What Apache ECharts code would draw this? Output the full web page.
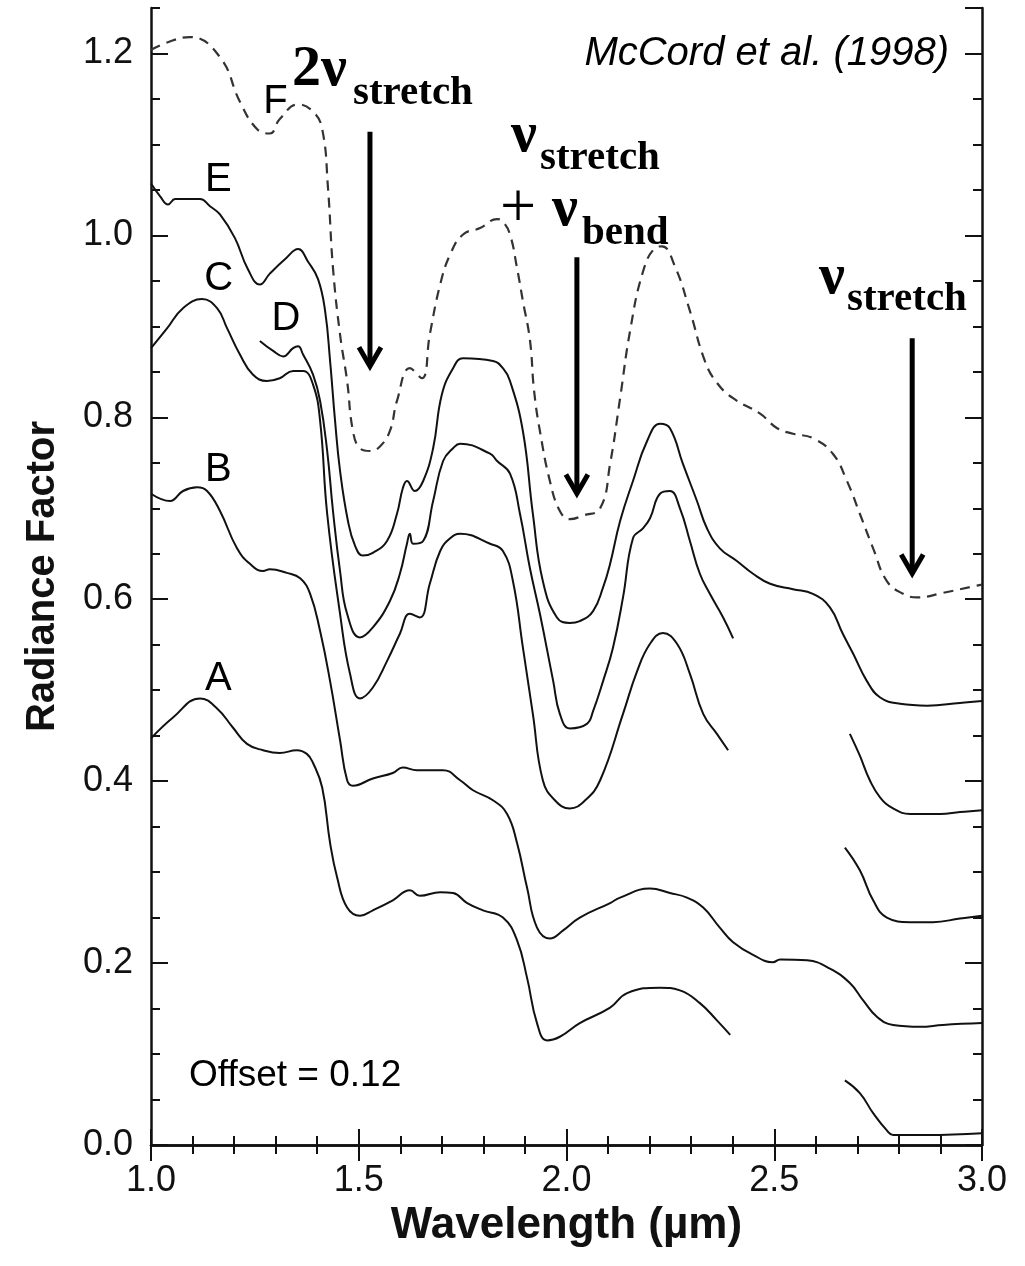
<!DOCTYPE html>
<html lang="en">
<head>
<meta charset="UTF-8">
<title>Radiance Factor</title>
<script src="https://cdn.jsdelivr.net/npm/echarts@6/dist/echarts.min.js"></script>
</head>
<body style="margin:0;background:#fff">
<div id="main" style="width:1025px;height:1266px"></div>
<script>
// spectra, [wavelength µm, radiance factor], '-' = gap
var curveF = [[1.000,1.204],[1.050,1.214],[1.094,1.218],[1.166,1.196],[1.214,1.147],[1.255,1.117],[1.286,1.112],[1.310,1.128],[1.354,1.144],[1.390,1.136],[1.412,1.117],[1.426,1.052],[1.438,0.964],[1.455,0.891],[1.472,0.840],[1.486,0.785],[1.503,0.766],[1.527,0.763],[1.551,0.768],[1.575,0.785],[1.592,0.818],[1.623,0.854],[1.652,0.843],[1.671,0.891],[1.696,0.946],[1.720,0.979],[1.751,1.001],[1.792,1.008],[1.833,1.018],[1.847,1.015],[1.864,1.001],[1.881,0.964],[1.895,0.928],[1.912,0.885],[1.922,0.829],[1.936,0.785],[1.960,0.730],[1.984,0.697],[2.008,0.688],[2.040,0.692],[2.081,0.700],[2.105,0.749],[2.129,0.821],[2.153,0.895],[2.184,0.960],[2.213,0.986],[2.230,0.988],[2.261,0.966],[2.297,0.917],[2.333,0.862],[2.362,0.838],[2.401,0.821],[2.466,0.804],[2.507,0.788],[2.545,0.782],[2.593,0.777],[2.641,0.760],[2.675,0.730],[2.706,0.694],[2.738,0.656],[2.771,0.620],[2.810,0.606],[2.844,0.602],[2.906,0.607],[2.988,0.615],[3.000,0.616]];

var curveE = [[1.000,1.057],[1.022,1.043],[1.041,1.034],[1.058,1.040],[1.082,1.040],[1.118,1.040],[1.142,1.032],[1.166,1.023],[1.202,0.997],[1.233,0.963],[1.262,0.946],[1.286,0.958],[1.323,0.974],[1.354,0.985],[1.378,0.971],[1.402,0.952],[1.419,0.917],[1.431,0.862],[1.443,0.796],[1.455,0.741],[1.474,0.686],[1.491,0.659],[1.510,0.648],[1.534,0.651],[1.568,0.664],[1.592,0.694],[1.606,0.722],[1.616,0.730],[1.635,0.719],[1.655,0.730],[1.679,0.766],[1.700,0.825],[1.727,0.854],[1.751,0.865],[1.823,0.862],[1.847,0.854],[1.864,0.840],[1.895,0.785],[1.919,0.694],[1.943,0.620],[1.977,0.580],[2.008,0.574],[2.032,0.576],[2.064,0.587],[2.088,0.613],[2.105,0.639],[2.129,0.686],[2.160,0.730],[2.194,0.774],[2.225,0.793],[2.249,0.788],[2.280,0.749],[2.314,0.708],[2.338,0.678],[2.369,0.656],[2.410,0.642],[2.449,0.628],[2.490,0.617],[2.545,0.611],[2.593,0.606],[2.634,0.591],[2.665,0.562],[2.690,0.540],[2.723,0.510],[2.755,0.492],[2.803,0.485],[2.868,0.483],[2.947,0.486],[3.000,0.488]];

var curveD = [[1.262,0.884],[1.294,0.873],[1.318,0.867],[1.342,0.876],[1.354,0.878],[1.366,0.869],[1.390,0.847],[1.407,0.818],[1.424,0.763],[1.438,0.697],[1.455,0.631],[1.472,0.584],[1.503,0.558],[1.534,0.569],[1.575,0.598],[1.599,0.628],[1.616,0.661],[1.623,0.672],[1.631,0.661],[1.655,0.664],[1.679,0.708],[1.703,0.752],[1.727,0.766],[1.744,0.771],[1.816,0.760],[1.833,0.752],[1.864,0.738],[1.888,0.694],[1.912,0.634],[1.936,0.584],[1.968,0.510],[1.984,0.474],[2.008,0.458],[2.049,0.463],[2.064,0.477],[2.088,0.510],[2.112,0.547],[2.136,0.602],[2.160,0.667],[2.184,0.678],[2.201,0.689],[2.225,0.716],[2.249,0.719],[2.273,0.700],[2.297,0.664],[2.321,0.628],[2.345,0.606],[2.377,0.580],[2.401,0.557],[2.54,'-'],[2.682,0.452],[2.706,0.428],[2.730,0.401],[2.755,0.382],[2.786,0.370],[2.827,0.364],[2.899,0.364],[2.947,0.366],[3.000,0.368]];

var curveC = [[1.000,0.876],[1.039,0.898],[1.077,0.920],[1.123,0.930],[1.159,0.920],[1.183,0.898],[1.214,0.869],[1.245,0.847],[1.279,0.840],[1.310,0.843],[1.342,0.851],[1.366,0.851],[1.390,0.836],[1.407,0.796],[1.424,0.694],[1.455,0.584],[1.479,0.518],[1.503,0.491],[1.534,0.503],[1.568,0.532],[1.599,0.562],[1.623,0.584],[1.647,0.580],[1.671,0.617],[1.696,0.653],[1.720,0.667],[1.744,0.672],[1.816,0.661],[1.847,0.653],[1.871,0.620],[1.895,0.547],[1.919,0.474],[1.943,0.401],[1.972,0.379],[2.008,0.370],[2.045,0.379],[2.081,0.401],[2.136,0.474],[2.170,0.521],[2.201,0.551],[2.232,0.563],[2.266,0.551],[2.297,0.518],[2.329,0.474],[2.362,0.452],[2.389,0.434],[2.54,'-'],[2.670,0.327],[2.706,0.302],[2.738,0.269],[2.771,0.250],[2.827,0.245],[2.882,0.245],[2.947,0.249],[3.000,0.252]];

var curveB = [[1.000,0.716],[1.046,0.708],[1.077,0.719],[1.111,0.723],[1.135,0.719],[1.166,0.697],[1.207,0.656],[1.238,0.639],[1.270,0.631],[1.286,0.633],[1.327,0.629],[1.359,0.623],[1.383,0.606],[1.407,0.565],[1.431,0.510],[1.455,0.445],[1.472,0.401],[1.486,0.395],[1.534,0.403],[1.582,0.409],[1.606,0.415],[1.640,0.412],[1.703,0.412],[1.744,0.401],[1.775,0.390],[1.823,0.379],[1.857,0.364],[1.881,0.332],[1.905,0.283],[1.929,0.239],[1.960,0.227],[1.992,0.236],[2.032,0.250],[2.105,0.266],[2.129,0.272],[2.201,0.282],[2.249,0.277],[2.290,0.272],[2.329,0.261],[2.369,0.239],[2.401,0.223],[2.449,0.209],[2.497,0.201],[2.514,0.204],[2.579,0.203],[2.634,0.194],[2.682,0.178],[2.714,0.159],[2.747,0.141],[2.786,0.132],[2.851,0.130],[2.906,0.132],[3.000,0.134]];

var curveA = [[1.000,0.447],[1.053,0.470],[1.118,0.491],[1.159,0.480],[1.197,0.459],[1.231,0.441],[1.270,0.434],[1.310,0.431],[1.351,0.434],[1.375,0.430],[1.390,0.420],[1.412,0.393],[1.431,0.332],[1.448,0.294],[1.472,0.261],[1.503,0.252],[1.534,0.258],[1.582,0.269],[1.623,0.280],[1.647,0.274],[1.696,0.278],[1.727,0.277],[1.761,0.266],[1.799,0.258],[1.847,0.250],[1.881,0.225],[1.905,0.184],[1.929,0.134],[1.953,0.115],[1.984,0.119],[2.032,0.134],[2.105,0.151],[2.146,0.167],[2.225,0.173],[2.273,0.170],[2.321,0.156],[2.362,0.137],[2.394,0.121],[2.54,'-'],[2.670,0.071],[2.706,0.057],[2.738,0.035],[2.771,0.016],[2.786,0.011],[2.868,0.011],[3.000,0.013]];

var curveNames = ['F', 'E', 'D', 'C', 'B', 'A'];
var curves = [curveF, curveE, curveD, curveC, curveB, curveA];

// curve letters: [text, wavelength, radiance]
var letterLabels = [['F', 1.27, 1.147], ['E', 1.13, 1.061], ['C', 1.128, 0.952], ['D', 1.29, 0.908], ['B', 1.13, 0.742], ['A', 1.13, 0.512]];
// arrows: [wavelength, top radiance, tip radiance]
var arrows = [[1.527, 1.114, 0.854], [2.025, 0.976, 0.714], [2.832, 0.887, 0.626]];

var sans = '"Liberation Sans", Arial, sans-serif';
var serif = '"Liberation Serif", "Times New Roman", serif';
var ink = '#111';

var chartDom = document.getElementById('main');
var myChart = echarts.init(chartDom);

function xAxisDef(pos, labels) {
    return {
        type: 'value', position: pos, min: 1, max: 3, interval: 0.5,
        axisLine: {show: true, lineStyle: {color: ink, width: 2.5}},
        axisTick: {show: true, inside: true, length: 16, lineStyle: {color: ink, width: 2}},
        minorTick: {show: true, splitNumber: 5, length: 9, lineStyle: {color: ink, width: 2}},
        splitLine: {show: false},
        axisLabel: {
            show: labels, margin: 18, color: ink, fontSize: 36, fontFamily: sans,
            showMinLabel: true, showMaxLabel: true,
            formatter: function (v) { return v.toFixed(1); }
        },
        name: labels ? 'Wavelength (\u00b5m)' : '',
        nameLocation: 'middle', nameGap: 58,
        nameTextStyle: {color: ink, fontSize: 44, fontWeight: 'bold', fontFamily: sans}
    };
}

function yAxisDef(pos, interval, tickLen, labels, line) {
    return {
        type: 'value', position: pos, min: 0, max: 1.25, interval: interval,
        axisLine: {show: line, lineStyle: {color: ink, width: 2.5}},
        axisTick: {show: true, inside: true, length: tickLen, lineStyle: {color: ink, width: 2}},
        splitLine: {show: false},
        axisLabel: {
            show: labels, margin: 18, color: ink, fontSize: 36, fontFamily: sans,
            showMaxLabel: false,
            formatter: function (v) {
                return Math.abs(v * 5 - Math.round(v * 5)) < 1e-6 ? v.toFixed(1) : '';
            }
        },
        name: labels ? 'Radiance Factor' : '',
        nameLocation: 'middle', nameGap: 88,
        nameTextStyle: {color: ink, fontSize: 40, fontWeight: 'bold', fontFamily: sans}
    };
}

var series = curves.map(function (c, i) {
    var dashed = curveNames[i] === 'F';
    return {
        name: curveNames[i],
        type: 'line',
        data: c,
        showSymbol: false,
        smooth: 0.45,
        connectNulls: false,
        lineStyle: {
            color: dashed ? '#333' : ink,
            width: dashed ? 2.2 : 2,
            type: dashed ? [10, 7] : 'solid'
        }
    };
});

var option = {
    animation: false,
    backgroundColor: '#fff',
    grid: {left: 151, right: 43, top: 8, bottom: 121, containLabel: false, outerBoundsMode: 'none'},
    xAxis: [xAxisDef('bottom', true), xAxisDef('top', false)],
    yAxis: [
        yAxisDef('left', 0.2, 17, true, true),
        yAxisDef('left', 0.05, 9, false, false),
        yAxisDef('right', 0.2, 17, false, true),
        yAxisDef('right', 0.05, 9, false, false)
    ],
    series: series
};
option && myChart.setOption(option);

// annotations placed after layout so they follow the axes
function px(x, y) {
    return myChart.convertToPixel({xAxisIndex: 0, yAxisIndex: 0}, [x, y]);
}
function txt(s, x, y, font, align) {
    return {
        type: 'text', x: x, y: y, silent: true, z: 100,
        style: {text: s, font: font, fill: '#000', align: align || 'left', verticalAlign: 'middle',
            textAlign: align || 'left', textVerticalAlign: 'middle'}
    };
}

var graphics = [];
letterLabels.forEach(function (l) {
    var p = px(l[1], l[2]);
    graphics.push(txt(l[0], p[0], p[1], '40px ' + sans));
});
arrows.forEach(function (a) {
    var top = px(a[0], a[1]), tip = px(a[0], a[2]);
    graphics.push({type: 'polyline', silent: true, z: 100,
        shape: {points: [[top[0], top[1]], [tip[0], tip[1] - 3]]},
        style: {stroke: '#000', lineWidth: 5, fill: null}});
    graphics.push({type: 'polyline', silent: true, z: 100,
        shape: {points: [[tip[0] - 11, tip[1] - 21], [tip[0], tip[1] - 2], [tip[0] + 11, tip[1] - 21]]},
        style: {stroke: '#000', lineWidth: 5, fill: null, lineJoin: 'miter'}});
});

var big = 'bold 58px ' + serif, sub = 'bold 41px ' + serif;
graphics.push(txt('2\u03bd', 292, 70, big));
graphics.push(txt('stretch', 353, 93, sub));
graphics.push(txt('\u03bd', 511, 136, big));
graphics.push(txt('stretch', 540, 158, sub));
graphics.push(txt('+', 500, 210, '64px ' + serif));
graphics.push(txt('\u03bd', 552, 210, big));
graphics.push(txt('bend', 582, 233, sub));
graphics.push(txt('\u03bd', 819, 278, big));
graphics.push(txt('stretch', 847, 299, sub));
graphics.push(txt('McCord et al. (1998)', 949, 54, 'italic 40px ' + sans, 'right'));
graphics.push(txt('Offset = 0.12', 189, 1076, '37px ' + sans));

myChart.setOption({graphic: graphics});
</script>
</body>
</html>
